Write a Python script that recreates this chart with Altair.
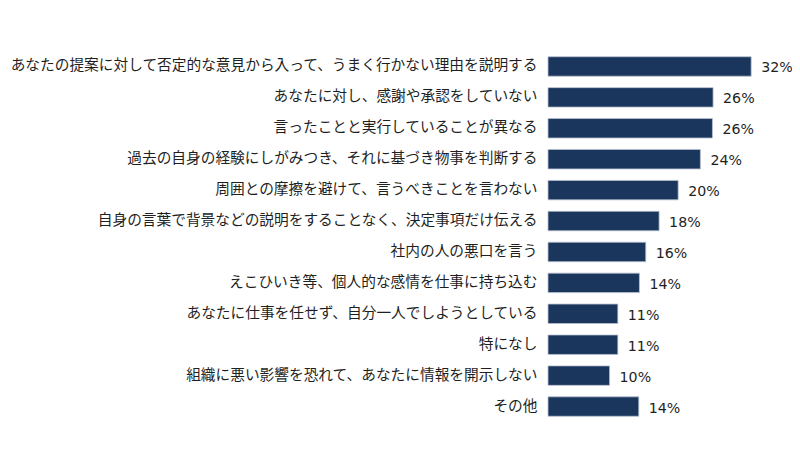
import altair as alt
import pandas as pd

categories = [
    "あなたの提案に対して否定的な意見から入って、うまく行かない理由を説明する",
    "あなたに対し、感謝や承認をしていない",
    "言ったことと実行していることが異なる",
    "過去の自身の経験にしがみつき、それに基づき物事を判断する",
    "周囲との摩擦を避けて、言うべきことを言わない",
    "自身の言葉で背景などの説明をすることなく、決定事項だけ伝える",
    "社内の人の悪口を言う",
    "えこひいき等、個人的な感情を仕事に持ち込む",
    "あなたに仕事を任せず、自分一人でしようとしている",
    "特になし",
    "組織に悪い影響を恐れて、あなたに情報を開示しない",
    "その他",
]
values = [32.0, 26.0, 25.9, 24.0, 20.5, 17.5, 15.4, 14.4, 11.0, 11.0, 9.7, 14.3]
labels = ["32%", "26%", "26%", "24%", "20%", "18%", "16%", "14%", "11%", "11%", "10%", "14%"]

df = pd.DataFrame({"cat": categories, "val": values, "lab": labels})

y = alt.Y(
    "cat:N",
    sort=None,
    title=None,
    scale=alt.Scale(paddingInner=0.37, paddingOuter=0.185),
    axis=alt.Axis(
        domain=False,
        ticks=False,
        labelPadding=11,
        labelLimit=700,
        labelFont="Noto Sans CJK JP",
        labelFontSize=14.7,
        labelColor="#1f1f1f",
    ),
)
x = alt.X(
    "val:Q",
    title=None,
    scale=alt.Scale(domain=[0, 37.8], nice=False, zero=True),
    axis=None,
)

base = alt.Chart(df)
bars = base.mark_bar(color="#1B365D", stroke="#b9c2d0", strokeWidth=0.8).encode(x=x, y=y)
text = base.mark_text(
    align="left",
    baseline="middle",
    dx=10,
    dy=2,
    font="DejaVu Sans",
    fontSize=14.2,
    color="#1f1f1f",
).encode(x=x, y=y, text="lab:N")

chart = (
    (bars + text)
    .properties(
        width=240,
        height=371,
        autosize=alt.AutoSizeParams(type="none"),
        padding={"left": 540, "top": 43, "right": 4, "bottom": 30},
        background="white",
    )
    .configure_view(stroke=None)
)

chart.save("out.html", embed_options={"renderer": "svg", "actions": False})
